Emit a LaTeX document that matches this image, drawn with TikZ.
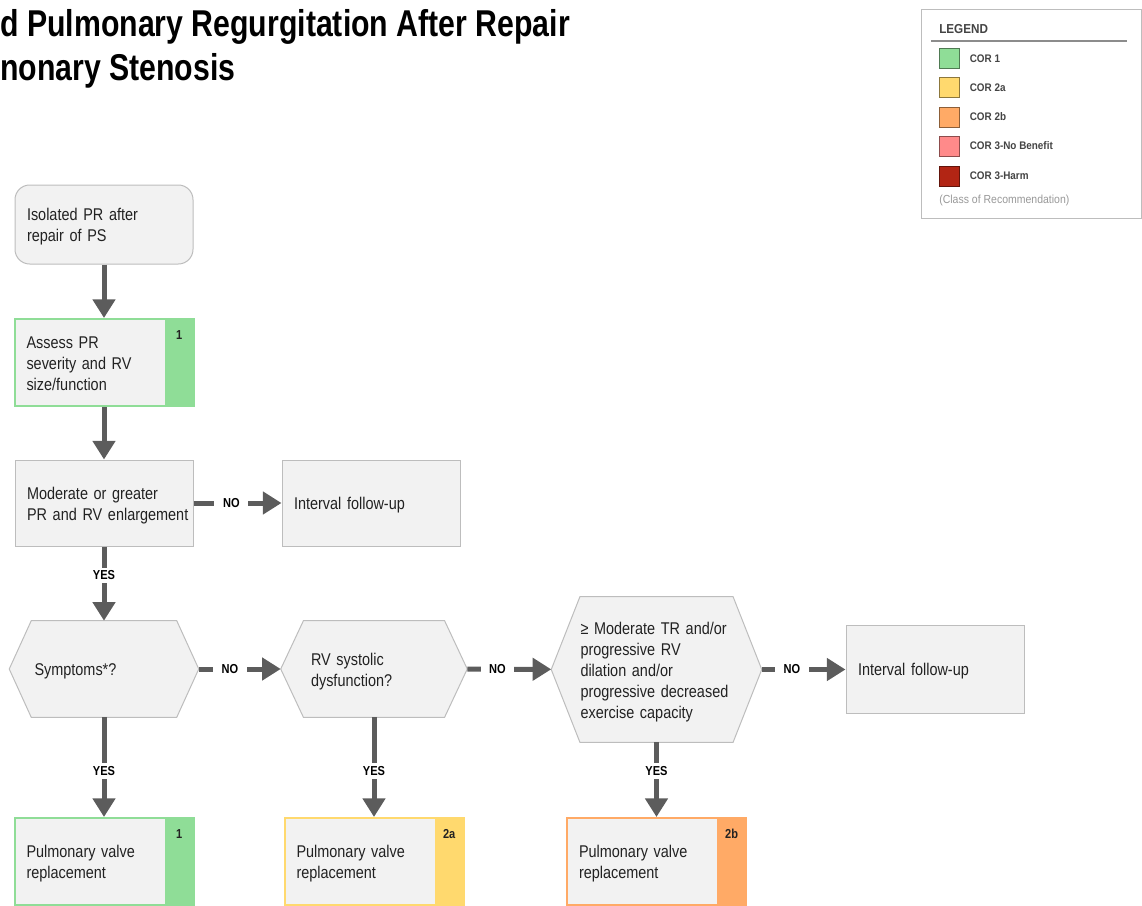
\documentclass[tikz,border=0pt]{standalone}
\usepackage{fontspec}
\setmainfont{Liberation Sans}[FakeStretch=0.85]
\newfontfamily\titlefont{Liberation Sans}[FakeStretch=0.81]
\newfontfamily\legfont{Liberation Sans}[FakeStretch=0.9]
\usetikzlibrary{arrows.meta,backgrounds}
\definecolor{boxfill}{HTML}{F2F2F2}
\definecolor{boxline}{HTML}{BDBDBD}
\definecolor{arrowc}{HTML}{5C5C5C}
\definecolor{cor1}{HTML}{8FDD97}
\definecolor{cor2a}{HTML}{FFD96E}
\definecolor{cor2b}{HTML}{FFAA66}
\definecolor{cor3n}{HTML}{FF8A8A}
\definecolor{cor3h}{HTML}{B22514}
\definecolor{legtext}{HTML}{444444}
\definecolor{bodytext}{HTML}{222222}
\tikzset{
  base/.style={rectangle, inner sep=0pt, align=left, text=bodytext,
    font=\fontsize{12.75}{15.75}\selectfont,
    execute at begin node={\rule{0pt}{14.5pt}},
    execute at end node={\rule[-4.5pt]{0pt}{0pt}}},
  box/.style={base, draw=boxline, line width=0.75pt, fill=boxfill},
  corbox/.style={base, draw=#1, line width=1.5pt, fill=boxfill},
  hexnode/.style={base},
  hexline/.style={draw=boxline, line width=0.75pt, fill=boxfill},
  arr/.style={draw=arrowc, line width=3.75pt, -{Triangle[width=16.5pt,length=14pt]}},
  lab/.style={fill=white, text=black, inner xsep=6.5pt, inner ysep=2.5pt,
    font=\bfseries\fontsize{9.75}{11}\selectfont},
  corlab/.style={inner sep=0pt, text=bodytext, font=\bfseries\fontsize{9.75}{11}\selectfont},
  swatch/.style={rectangle, minimum size=15pt, inner sep=0pt, line width=0.75pt},
  leglab/.style={anchor=west, inner sep=0pt, text=legtext, font=\legfont\bfseries\fontsize{8.25}{10}\selectfont},
}
\newcommand{\hexagonof}[2]{%
  \draw[hexline] (#1.west) -- ([xshift=#2]#1.north west) -- ([xshift=-#2]#1.north east)
    -- (#1.east) -- ([xshift=-#2]#1.south east) -- ([xshift=#2]#1.south west) -- cycle;}
\newcommand{\stripof}[3]{%
  \fill[#2] ([xshift=-22.5pt]#1.north east) rectangle (#1.south east);
  \node[corlab] at ([xshift=-11.5pt,yshift=-12.5pt]#1.north east) {#3};}
\begin{document}
\hyphenpenalty=10000
\exhyphenpenalty=10000
\begin{tikzpicture}[x=0.75pt,y=-0.75pt]
\useasboundingbox (0,0) rectangle (1142,906);

% title
\begin{scope}
\clip (0,0) rectangle (1142,906);
\node[anchor=base west, inner sep=0pt, font=\titlefont\bfseries\fontsize{28}{30}\selectfont] (title1) at (0,37) {d Pulmonary Regurgitation After Repair};
\node[anchor=base west, inner sep=0pt, font=\titlefont\bfseries\fontsize{28}{30}\selectfont] (title2) at (0,80) {nonary Stenosis};
\end{scope}

% legend
\node[rectangle, draw=boxline, line width=0.75pt, fill=white, minimum width=165pt, minimum height=156pt, inner sep=0pt] (legend) at (1031,114) {};
\node[anchor=west, inner sep=0pt, text=legtext, font=\legfont\bfseries\fontsize{9.75}{11}\selectfont] (legtitle) at (939,29) {LEGEND};
\draw[draw=black!45, line width=1pt] (931,41) -- (1127,41);
\node[swatch, fill=cor1, draw=cor1!55!black] (s1) at (949,59) {};
\node[swatch, fill=cor2a, draw=cor2a!55!black] (s2) at (949,88) {};
\node[swatch, fill=cor2b, draw=cor2b!55!black] (s3) at (949,117) {};
\node[swatch, fill=cor3n, draw=cor3n!55!black] (s4) at (949,146) {};
\node[swatch, fill=cor3h, draw=cor3h!55!black] (s5) at (949,176) {};
\node[leglab] (l1) at ([xshift=7.5pt]s1.east) {COR 1};
\node[leglab] (l2) at ([xshift=7.5pt]s2.east) {COR 2a};
\node[leglab] (l3) at ([xshift=7.5pt]s3.east) {COR 2b};
\node[leglab] (l4) at ([xshift=7.5pt]s4.east) {COR 3-No Benefit};
\node[leglab] (l5) at ([xshift=7.5pt]s5.east) {COR 3-Harm};
\node[anchor=west, inner sep=0pt, text=black!40, font=\legfont\fontsize{8.75}{10}\selectfont] (lnote) at (939,200) {(Class of Recommendation)};

% boxes
\node[box, rounded corners=11pt, minimum width=133.5pt, minimum height=59.25pt, text width=115.5pt] (start) at (104,224.5) {Isolated PR after\\repair of PS};
\node[corbox=cor1, minimum width=134.25pt, minimum height=65.25pt, text width=116.25pt] (assess) at (104,362.5) {Assess PR\\severity and RV\\size/function};
\stripof{assess}{cor1}{1}
\node[box, minimum width=133.5pt, minimum height=64.5pt, text width=115.5pt] (moderate) at (104,503) {Moderate or greater\\\mbox{PR and RV enlargement}};
\node[box, minimum width=133.5pt, minimum height=64.5pt, text width=115.5pt] (follow1) at (371,503) {Interval follow-up};

% hexagons
\node[hexnode, minimum width=141.75pt, minimum height=72pt, text width=104.25pt] (symptoms) at (104,669) {Symptoms*?};
\node[hexnode, minimum width=139.5pt, minimum height=72pt, text width=94.5pt] (rvsys) at (374,669) {RV systolic\\dysfunction?};
\node[hexnode, minimum width=157.5pt, minimum height=108.75pt, text width=114pt] (tr) at (656.5,669.5) {≥ Moderate TR and/or\\progressive RV\\dilation and/or\\\mbox{progressive decreased}\\exercise capacity};
\begin{scope}[on background layer]
\hexagonof{symptoms}{16.5pt}
\hexagonof{rvsys}{17pt}
\hexagonof{tr}{21.5pt}
\end{scope}
\node[box, minimum width=133.5pt, minimum height=66pt, text width=115.5pt] (follow2) at (935,669) {Interval follow-up};

% bottom boxes
\node[corbox=cor1, minimum width=134.25pt, minimum height=65.25pt, text width=116.25pt] (pvr1) at (104,861.5) {Pulmonary valve\\replacement};
\stripof{pvr1}{cor1}{1}
\node[corbox=cor2a, minimum width=134.25pt, minimum height=65.25pt, text width=116.25pt] (pvr2) at (374,861.5) {Pulmonary valve\\replacement};
\stripof{pvr2}{cor2a}{2a}
\node[corbox=cor2b, minimum width=134.25pt, minimum height=65.25pt, text width=116.25pt] (pvr3) at (656.5,861.5) {Pulmonary valve\\replacement};
\stripof{pvr3}{cor2b}{2b}

% connectors
\draw[arr] (start) -- (assess);
\draw[arr] (assess) -- (moderate);
\draw[arr] (moderate) -- node[lab, pos=0.43] {NO} (follow1);
\draw[arr] (moderate) -- node[lab, pos=0.39] {YES} (symptoms);
\draw[arr] (symptoms) -- node[lab, pos=0.38] {NO} (rvsys);
\draw[arr] (rvsys) -- node[lab, pos=0.36] {NO} (tr);
\draw[arr] (tr.east) -- node[lab, pos=0.36] {NO} (follow2.west |- tr.east);
\draw[arr] (symptoms) -- node[lab, pos=0.54] {YES} (pvr1);
\draw[arr] (rvsys) -- node[lab, pos=0.54] {YES} (pvr2);
\draw[arr] (tr) -- node[lab, pos=0.39] {YES} (pvr3);
\end{tikzpicture}
\end{document}
